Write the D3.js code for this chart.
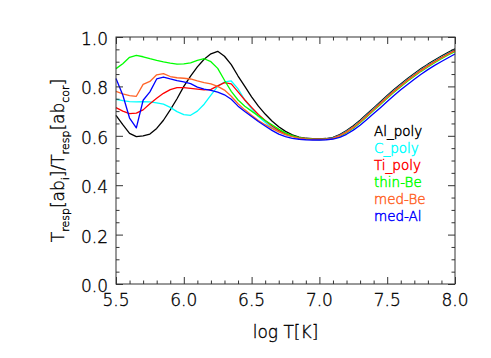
<!DOCTYPE html>
<html lang="en">
<head>
<meta charset="UTF-8">
<title>Tresp ratio vs log T</title>
<style>
    body { margin: 0; padding: 0; background: #fff; }
    svg { display: block; }
    .tick-label, .title { font-family: "DejaVu Sans", sans-serif; font-size: 17px; font-weight: 200;
                          fill: #000; stroke: #000; stroke-width: 0.35; }
    .legend text { font-family: "DejaVu Sans", sans-serif; font-size: 13.5px; font-weight: 200; stroke-width: 0.45; }
</style>
</head>
<body>
<div id="chart"></div>
<script src="https://cdnjs.cloudflare.com/ajax/libs/d3/7.8.5/d3.min.js"></script>
<script>
// log T grid
const logT = [5.50, 5.55, 5.60, 5.65, 5.70, 5.75, 5.80, 5.85, 5.90, 5.95,
              6.00, 6.05, 6.10, 6.15, 6.20, 6.25, 6.30, 6.35, 6.40, 6.45,
              6.50, 6.55, 6.60, 6.65, 6.70, 6.75, 6.80, 6.85, 6.90, 6.95,
              7.00, 7.05, 7.10, 7.15, 7.20, 7.25, 7.30, 7.35, 7.40, 7.45,
              7.50, 7.55, 7.60, 7.65, 7.70, 7.75, 7.80, 7.85, 7.90, 7.95, 8.00];

const alPoly = [0.683, 0.645, 0.610, 0.597, 0.600, 0.607, 0.630, 0.663, 0.705, 0.750,
                0.800, 0.842, 0.879, 0.910, 0.932, 0.942, 0.922, 0.888, 0.842, 0.800,
                0.758, 0.720, 0.688, 0.660, 0.637, 0.618, 0.604, 0.595, 0.590, 0.588,
                0.587, 0.589, 0.594, 0.605, 0.621, 0.641, 0.663, 0.688, 0.713, 0.738,
                0.763, 0.787, 0.810, 0.832, 0.852, 0.872, 0.890, 0.907, 0.923, 0.938, 0.952];

const cPoly = [0.748, 0.742, 0.738, 0.737, 0.738, 0.737, 0.733, 0.728, 0.715, 0.698,
               0.686, 0.683, 0.700, 0.728, 0.765, 0.800, 0.818, 0.822, 0.790, 0.745,
               0.710, 0.678, 0.655, 0.633, 0.617, 0.605, 0.597, 0.591, 0.588, 0.586,
               0.585, 0.587, 0.592, 0.602, 0.618, 0.637, 0.659, 0.684, 0.709, 0.734,
               0.759, 0.783, 0.806, 0.828, 0.848, 0.868, 0.886, 0.903, 0.919, 0.934, 0.948];

const tiPoly = [0.714, 0.700, 0.690, 0.692, 0.705, 0.730, 0.752, 0.772, 0.787, 0.795,
                0.795, 0.792, 0.789, 0.786, 0.788, 0.802, 0.815, 0.810, 0.778, 0.745,
                0.715, 0.686, 0.662, 0.640, 0.622, 0.608, 0.599, 0.593, 0.589, 0.587,
                0.586, 0.587, 0.591, 0.601, 0.616, 0.635, 0.657, 0.682, 0.707, 0.732,
                0.757, 0.781, 0.804, 0.826, 0.846, 0.866, 0.884, 0.901, 0.917, 0.932, 0.946];

const thinBe = [0.872, 0.892, 0.918, 0.926, 0.920, 0.912, 0.905, 0.899, 0.894, 0.890,
                0.891, 0.895, 0.905, 0.912, 0.900, 0.873, 0.825, 0.780, 0.745, 0.720,
                0.700, 0.680, 0.662, 0.645, 0.627, 0.612, 0.601, 0.593, 0.588, 0.586,
                0.585, 0.586, 0.589, 0.598, 0.612, 0.631, 0.653, 0.677, 0.702, 0.727,
                0.752, 0.776, 0.799, 0.821, 0.841, 0.861, 0.879, 0.896, 0.912, 0.927, 0.941];

const medBe = [0.780, 0.770, 0.763, 0.760, 0.808, 0.820, 0.847, 0.852, 0.840, 0.835,
               0.833, 0.830, 0.822, 0.815, 0.810, 0.800, 0.785, 0.760, 0.730, 0.705,
               0.683, 0.662, 0.645, 0.630, 0.616, 0.605, 0.597, 0.591, 0.587, 0.585,
               0.585, 0.586, 0.590, 0.600, 0.615, 0.634, 0.656, 0.680, 0.705, 0.730,
               0.755, 0.779, 0.802, 0.824, 0.844, 0.864, 0.882, 0.899, 0.915, 0.930, 0.944];

const medAl = [0.832, 0.765, 0.672, 0.632, 0.744, 0.778, 0.830, 0.838, 0.830, 0.823,
               0.818, 0.811, 0.797, 0.789, 0.784, 0.777, 0.766, 0.748, 0.720, 0.698,
               0.678, 0.658, 0.640, 0.622, 0.607, 0.597, 0.590, 0.586, 0.584, 0.583,
               0.583, 0.584, 0.587, 0.594, 0.606, 0.623, 0.643, 0.666, 0.690, 0.714,
               0.739, 0.763, 0.786, 0.808, 0.829, 0.849, 0.868, 0.885, 0.901, 0.916, 0.931];

const seriesNames  = ["Al_poly", "C_poly", "Ti_poly", "thin-Be", "med-Be", "med-Al"];
const seriesValues = [alPoly, cPoly, tiPoly, thinBe, medBe, medAl];
const seriesColors = ["#000000", "#00ffff", "#ff0000", "#00ff00", "#ff6428", "#0000ff"];

const xTicks = [5.5, 6.0, 6.5, 7.0, 7.5, 8.0];
const yTicks = [0.0, 0.2, 0.4, 0.6, 0.8, 1.0];

const width = 491, height = 358;
const margin = {left: 116, right: 36, top: 37, bottom: 74};

const svg = d3.select("#chart").append("svg")
    .attr("width", width)
    .attr("height", height);

const x = d3.scaleLinear().domain([5.5, 8.0]).range([margin.left, width - margin.right]);
const y = d3.scaleLinear().domain([0, 1]).range([height - margin.bottom, margin.top]);

// curves
const line = d3.line()
    .x((d, i) => x(logT[i]))
    .y(d => y(d));

seriesValues.forEach((vals, k) => {
    svg.append("path")
        .datum(vals)
        .attr("fill", "none")
        .attr("stroke", seriesColors[k])
        .attr("stroke-width", 1.3)
        .attr("stroke-linejoin", "round")
        .attr("d", line);
});

// frame with inward ticks on all four sides
const axisColor = "#333";
const xMinor = d3.range(55, 81).map(v => v / 10).filter(v => !xTicks.some(t => Math.abs(t - v) < 1e-6));
const yMinor = d3.range(0, 21).map(v => v / 20).filter(v => !yTicks.some(t => Math.abs(t - v) < 1e-6));

function drawAxis(axisFn, scale, ticks, minor, transform, len) {
    const g = svg.append("g").attr("transform", transform);
    g.call(axisFn(scale).tickValues(ticks).tickSize(-len).tickFormat(""));
    const gm = svg.append("g").attr("transform", transform);
    gm.call(axisFn(scale).tickValues(minor).tickSize(-len / 2).tickFormat(""));
    [g, gm].forEach(s => {
        s.selectAll("path, line").attr("stroke", axisColor).attr("stroke-width", 1);
        s.select(".domain").attr("d", null);
    });
}

drawAxis(d3.axisBottom, x, xTicks, xMinor, `translate(0,${y(0)})`, 7);
drawAxis(d3.axisTop, x, xTicks, xMinor, `translate(0,${y(1)})`, 7);
drawAxis(d3.axisLeft, y, yTicks, yMinor, `translate(${x(5.5)},0)`, 7);
drawAxis(d3.axisRight, y, yTicks, yMinor, `translate(${x(8.0)},0)`, 7);

svg.append("rect")
    .attr("x", x(5.5)).attr("y", y(1))
    .attr("width", x(8.0) - x(5.5)).attr("height", y(0) - y(1))
    .attr("fill", "none").attr("stroke", axisColor).attr("stroke-width", 1);

// tick labels
svg.selectAll(".xlab").data(xTicks).enter().append("text")
    .attr("class", "tick-label")
    .attr("x", d => x(d)).attr("y", y(0) + 22)
    .attr("text-anchor", "middle")
    .text(d => d.toFixed(1));

svg.selectAll(".ylab").data(yTicks).enter().append("text")
    .attr("class", "tick-label")
    .attr("x", x(5.5) - 8).attr("y", d => y(d) + 8)
    .attr("text-anchor", "end")
    .text(d => d.toFixed(1));

// axis titles
svg.append("text").attr("class", "title")
    .attr("x", (x(5.5) + x(8.0)) / 2).attr("y", 338)
    .attr("text-anchor", "middle")
    .text("log T[K]");

const yt = svg.append("text").attr("class", "title")
    .attr("transform", `translate(64,${(y(0) + y(1)) / 2}) rotate(-90)`)
    .attr("text-anchor", "middle");
yt.append("tspan").text("T");
yt.append("tspan").attr("font-size", 11).attr("dy", 5).text("resp");
yt.append("tspan").attr("dy", -5).text("[ab");
yt.append("tspan").attr("font-size", 11).attr("dy", 5).text("i");
yt.append("tspan").attr("dy", -5).text("]/T");
yt.append("tspan").attr("font-size", 11).attr("dy", 5).text("resp");
yt.append("tspan").attr("dy", -5).text("[ab");
yt.append("tspan").attr("font-size", 11).attr("dy", 5).text("cor");
yt.append("tspan").attr("dy", -5).text("]");

// legend
const legend = svg.append("g").attr("class", "legend");
legend.selectAll("text").data(seriesNames).enter().append("text")
    .attr("x", 374)
    .attr("y", (d, i) => 136 + i * 17)
    .attr("fill", (d, i) => seriesColors[i])
    .attr("stroke", (d, i) => seriesColors[i])
    .text(d => d);
</script>
</body>
</html>
